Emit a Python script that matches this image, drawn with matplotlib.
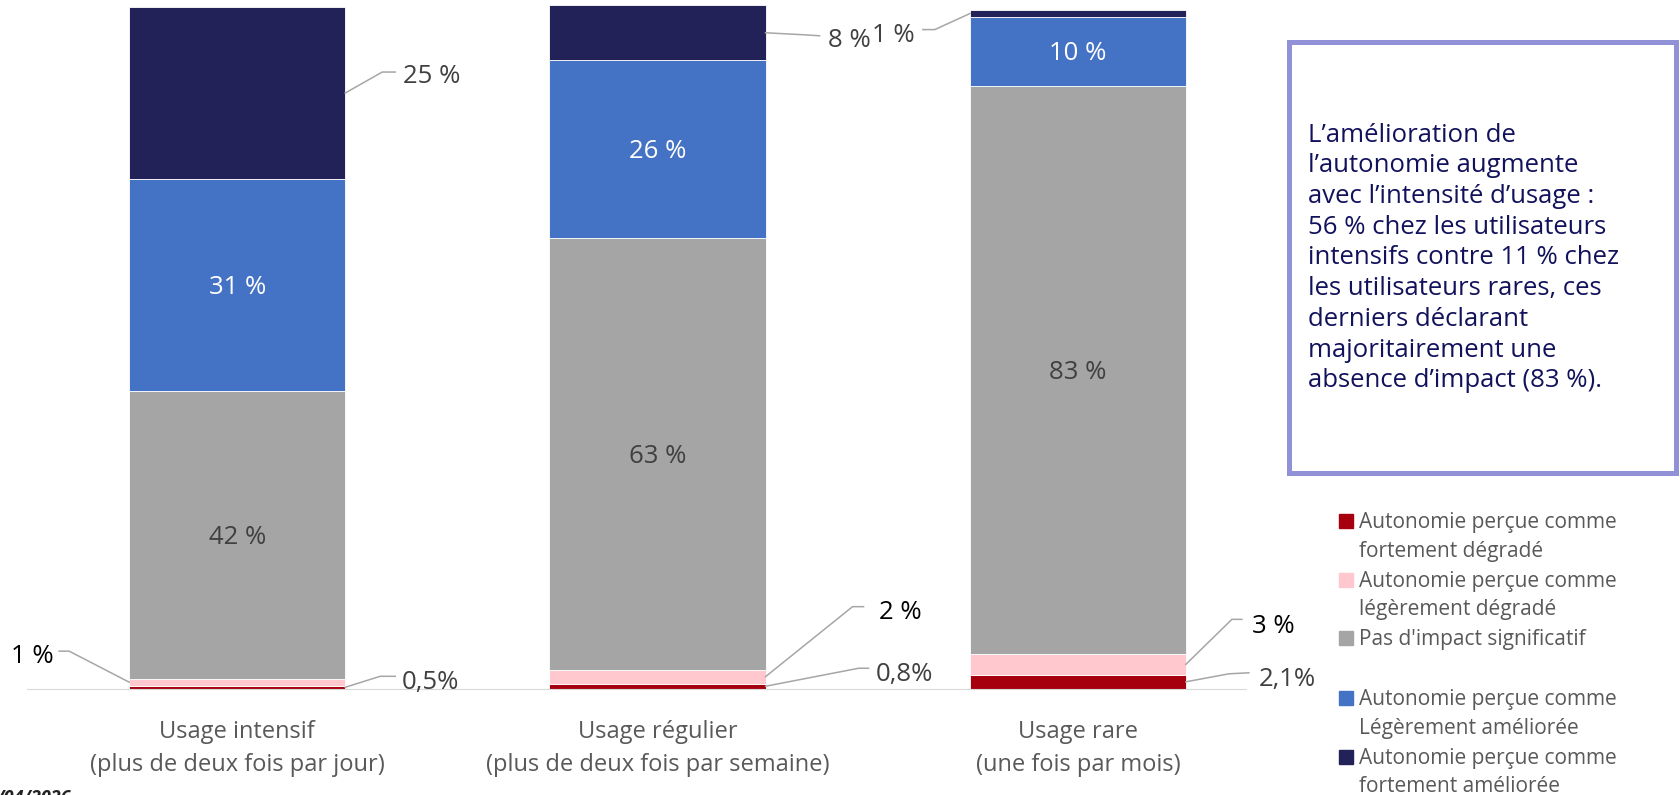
import numpy as np
import matplotlib
matplotlib.use('Agg')
import matplotlib.pyplot as plt
from matplotlib.patches import Rectangle

plt.rcParams['font.family'] = ['Open Sans', 'DejaVu Sans']

W, H = 1681, 795

# Data
categories = ["Usage intensif\n(plus de deux fois par jour)",
              "Usage régulier\n(plus de deux fois par semaine)",
              "Usage rare\n(une fois par mois)"]
forte_degrade = [0.5, 0.8, 2.1]
legere_degrade = [1, 2, 3]
pas_impact = [42, 63, 83]
legere_amelioree = [31, 26, 10]
forte_amelioree = [25, 8, 1]

series_names = ["Autonomie perçue comme\nfortement dégradé",
                "Autonomie perçue comme\nlégèrement dégradé",
                "Pas d'impact significatif",
                "Autonomie perçue comme\nLégèrement améliorée",
                "Autonomie perçue comme\nfortement améliorée"]
series_values = [forte_degrade, legere_degrade, pas_impact, legere_amelioree, forte_amelioree]
series_colors = ['#A6000F', '#FFC7CE', '#A5A5A5', '#4472C4', '#222258']

note = ("L’amélioration de\nl’autonomie augmente\navec l’intensité d’usage :\n"
        "56 % chez les utilisateurs\nintensifs contre 11 % chez\nles utilisateurs rares, ces\n"
        "derniers déclarant\nmajoritairement une\nabsence d’impact (83 %).")


def fmt(v):
    if float(v).is_integer():
        return f"{v:.0f} %"
    return f"{v:.1f}%".replace('.', ',')


fig = plt.figure(figsize=(W / 100, H / 100), dpi=100)
ax = fig.add_axes([27 / W, 106 / H, 1219 / W, 685 / H])

x = np.arange(len(categories))
bw = 0.514
bottoms = []
bottom = np.zeros(len(categories))
for vals, col in zip(series_values, series_colors):
    bottoms.append(bottom.copy())
    ax.bar(x, vals, bw, bottom=bottom, color=col, edgecolor='white', linewidth=0.6)
    bottom += np.array(vals, dtype=float)

ax.set_xlim(-0.5, 2.4)
ax.set_ylim(0, 100)
for s in ['top', 'left', 'right']:
    ax.spines[s].set_visible(False)
ax.spines['bottom'].set_color('#D9D9D9')
ax.set_yticks([])
ax.set_xticks(x, categories)
ax.tick_params(axis='x', length=0, pad=22, labelsize=17, labelcolor='#595959')
for lab in ax.get_xticklabels():
    lab.set_linespacing(1.5)

VAL_FS = 18.5
cap = 0.357 * VAL_FS * 100 / 72  # half cap height in px


def place(px, py, s, color, ha):
    # px, py: pixel coords (y up) of glyph centre
    fig.text(px / W, (py - cap) / H, s, ha=ha, va='baseline', fontsize=VAL_FS, color=color)


# labels inside the bars
for si, col in [(2, '#404040'), (3, 'white')]:
    for ci in range(len(categories)):
        v = series_values[si][ci]
        yc = bottoms[si][ci] + v / 2
        px, py = ax.transData.transform((x[ci], yc))
        place(px, py, fmt(v), col, 'center')

# leader-line labels: series, category, side, elbow, end, text offsets (px)
leaders = [
    (4, 0, 1, (37, 21), (50, 21), (58, 19), '#404040'),
    (1, 0, -1, (-60, 31), (-70, 31), (-76, 28), '#000000'),
    (0, 0, 1, (35, 11), (50, 11), (57, 7), '#404040'),
    (4, 1, 1, (38, -2), (54, -3), (62, -5), '#404040'),
    (1, 1, 1, (87, 70), (98, 70), (113, 67), '#000000'),
    (0, 1, 1, (93, 18), (103, 18), (110, 14), '#404040'),
    (4, 2, -1, (-35, -16), (-47, -16), (-55, -19), '#404040'),
    (1, 2, 1, (46, 45), (56, 45), (66, 41), '#000000'),
    (0, 2, 1, (43, 8), (63, 9), (73, 5), '#404040'),
]
for si, ci, side, el, en, to, col in leaders:
    v = series_values[si][ci]
    ax_, ay_ = ax.transData.transform((x[ci] + side * bw / 2, bottoms[si][ci] + v / 2))
    xs = [ax_, ax_ + el[0], ax_ + en[0]]
    ys = [ay_, ay_ + el[1], ay_ + en[1]]
    fig.add_artist(plt.Line2D([p / W for p in xs], [p / H for p in ys],
                              color='#A6A6A6', lw=1.1, transform=fig.transFigure))
    place(ax_ + to[0], ay_ + to[1], fmt(v), col, 'left' if side > 0 else 'right')

# note box
fig.add_artist(Rectangle((1289 / W, (H - 473) / H), 387 / W, 431 / H, fill=False,
                         edgecolor='#9191D7', lw=3.6, transform=fig.transFigure))
fig.text(1308 / W, (H - 258) / H, note, ha='left', va='center', fontsize=18.5,
         color='#12125C', linespacing=1.3)

# legend drawn by hand so the square sits on the first line
LEG_FS = 15
lcap = 0.357 * LEG_FS * 100 / 72
yc = 521
for i, (name, col) in enumerate(zip(series_names, series_colors)):
    if i == 3:
        yc += 30
    fig.add_artist(Rectangle((1339 / W, (H - yc - 7) / H), 14 / W, 14 / H, color=col,
                             transform=fig.transFigure))
    for line in name.split('\n'):
        fig.text(1359 / W, (H - yc - lcap) / H, line, ha='left', va='baseline',
                 fontsize=LEG_FS, color='#595959')
        yc += 28.5
    yc += 1.5

# date line, mostly cut by the lower edge as in the source image
fig.text(-0.002, -8 / H, "/04/2026", ha='left', va='baseline', fontsize=13,
         fontweight='bold', fontstyle='italic', color='#222222')

fig.savefig('out.png', dpi=100)
